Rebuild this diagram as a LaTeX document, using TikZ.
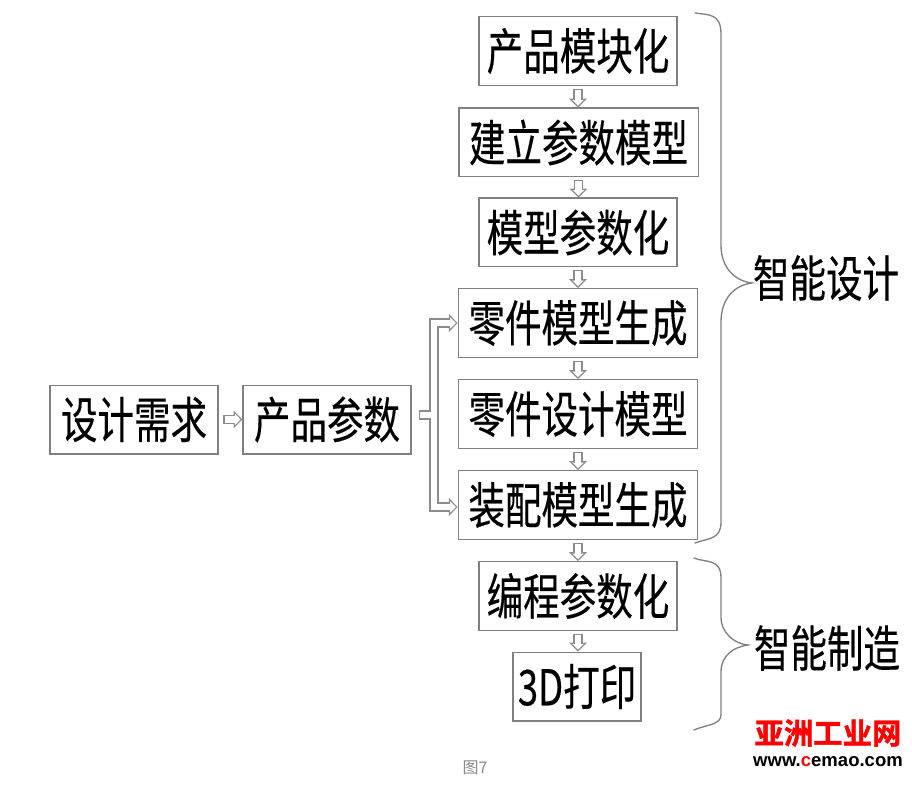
\documentclass[tikz,border=0pt]{standalone}
\usepackage{fontspec}
\usepackage{xcolor}
\usetikzlibrary{arrows.meta, calc}
\newfontfamily\cjkfont[FakeStretch=0.74, FakeBold=0.3]{Noto Sans CJK SC}
\newfontfamily\cjkplain{Noto Sans CJK SC}
\newfontfamily\cjkbold[FakeBold=1.5]{Noto Sans CJK SC Bold}
\newfontfamily\urlfont{Liberation Sans Bold}
\definecolor{traitgris}{HTML}{808080}
\definecolor{flechegris}{HTML}{8C8C8C}
\definecolor{legendegris}{HTML}{8A8A8A}
\definecolor{logorouge}{HTML}{FF0000}
\tikzset{
  etape/.style={draw=traitgris, line width=1pt, inner sep=0pt, minimum height=51.5pt, font=\cjkfont\fontsize{37}{40}\selectfont},
  bloc/.style={etape, minimum width=148.5pt},
  blocl/.style={etape, minimum width=179.5pt},
  blocg/.style={etape, minimum width=126pt},
  fleche out/.style={draw=flechegris, line width=7pt, -{Triangle[length=6.6pt, width=13.4pt, line width=0pt]}},
  fleche in/.style={draw=white, line width=5.1pt, shorten <=1.0pt, shorten >=1.4pt, -{Triangle[length=4.2pt, width=8.6pt, line width=0pt]}},
  fleche/.style={fleche out, postaction={fleche in}},
  accolade/.style={draw=traitgris, line width=1pt, line cap=round},
  etiquette/.style={font=\cjkfont\fontsize{37}{40}\selectfont}
}
\begin{document}
\begin{tikzpicture}[x=0.75pt, y=-0.75pt, >=Stealth]
  \useasboundingbox (0,0) rectangle (912,791);

  % Colonne de droite
  \node[bloc]  (modulaire) at (578,51)  {产品模块化};
  \node[blocl] (parametre) at (578.5,142.5) {建立参数模型};
  \node[bloc]  (modele)    at (578,232.5) {模型参数化};
  \node[blocl] (piece)     at (578,323) {零件模型生成};
  \node[blocl] (conception) at (578,414) {零件设计模型};
  \node[blocl] (assemblage) at (578,505) {装配模型生成};
  \node[bloc]  (programme) at (578,596) {编程参数化};
  \node[etape, minimum width=96pt] (impression) at (577,686.5) {3D打印};

  % Colonne de gauche
  \node[blocg] (besoin)  at (134,419.5) {设计需求};
  \node[blocg] (produit) at (327,419.5) {产品参数};

  % Fleches creuses
  \foreach \a/\b in {modulaire/parametre, parametre/modele, modele/piece, piece/conception, conception/assemblage, assemblage/programme, programme/impression}
    \draw[fleche] ([yshift=-2pt]\a.south) -- (\a.south |- \b.north);
  \draw[fleche] ([xshift=3.5pt]besoin.east) -- (produit.west);

  % Branche double
  \coordinate (depart) at (419,415);
  \coordinate (haut) at (piece.west |- 0,323);
  \coordinate (bas) at (assemblage.west |- 0,507);
  \draw[fleche out] (depart) -- (434,415) -- (434,323) -- (haut);
  \draw[fleche out] (depart) -- (434,415) -- (434,507) -- (bas);
  \draw[fleche in] (depart) -- (434,415) -- (434,323) -- (haut);
  \draw[fleche in] (depart) -- (434,415) -- (434,507) -- (bas);

  % Accolades
  \draw[accolade] (695,13) .. controls (708,15) and (721,13) .. (721,34) -- (721,245)
    .. controls (721,268) and (735,281) .. (752,283)
    .. controls (735,285) and (721,298) .. (721,322) -- (721,522)
    .. controls (721,540) and (708,538) .. (695,543);
  \draw[accolade] (694,558) .. controls (706,563) and (721,558) .. (721,578) -- (721,618)
    .. controls (721,632) and (734,644) .. (748,645)
    .. controls (734,647) and (721,655) .. (721,672) -- (721,715)
    .. controls (721,725) and (705,725) .. (694,730);

  \node[etiquette] (design) at (826,278) {智能设计};
  \node[etiquette] (fabrication) at (827,648) {智能制造};

  % Legende et logo
  \node[text=legendegris, font=\cjkplain\fontsize{12}{14}\selectfont] (legende) at (475,768) {图7};
  \node[text=logorouge, font=\cjkbold\fontsize{22}{24}\selectfont] (logo) at (828,733) {亚洲工业网};
  \node[font=\urlfont\fontsize{13.9}{16}\selectfont] (site) at (828,762) {www.\textcolor{logorouge}{c}emao.com};
\end{tikzpicture}
\end{document}
